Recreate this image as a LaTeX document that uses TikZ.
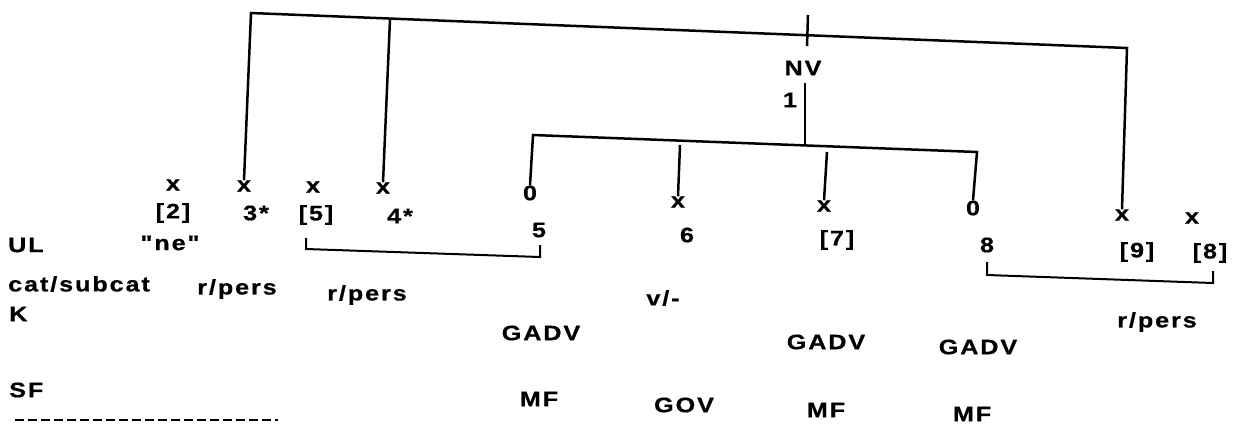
\documentclass[tikz,border=0pt]{standalone}
\usepackage{fontspec}
\setmainfont{Liberation Sans}[Ligatures=TeXOff, LetterSpace=9, FakeStretch=1.2, FakeBold=0.6]
\begin{document}
\begin{tikzpicture}[x=1pt,y=-1pt,
  lbl/.style={inner sep=0pt, font=\fontsize{21}{25}\selectfont\bfseries},
  ln/.style={line width=2.5pt}]
\useasboundingbox (0,0) rectangle (1236,424);
% row labels
\node[lbl,anchor=west] (ul) at (8,245) {UL};
\node[lbl,anchor=west] (cat) at (8,284) {cat/subcat};
\node[lbl,anchor=west] (k) at (9,314) {K};
\node[lbl,anchor=west] (sf) at (9,390) {SF};
% marker row
\node[lbl] (x1) at (173,185) {x};
\node[lbl] (x2) at (244,186) {x};
\node[lbl] (x3) at (313,187) {x};
\node[lbl] (x4) at (383,188) {x};
\node[lbl] (z5) at (530,193) {0};
\node[lbl] (x6) at (678,202) {x};
\node[lbl] (x7) at (824,206) {x};
\node[lbl] (z8) at (973,208) {0};
\node[lbl] (x9) at (1122,215) {x};
\node[lbl] (x10) at (1192,218) {x};
% number row
\node[lbl] (n2) at (173,213) {[2]};
\node[lbl] (n3) at (256,213) {3*};
\node[lbl] (n5a) at (316,215) {[5]};
\node[lbl] (n4) at (400,216) {4*};
\node[lbl] (n5) at (539,230) {5};
\node[lbl] (n6) at (687,235) {6};
\node[lbl] (n7) at (837,240) {[7]};
\node[lbl] (n8) at (987,245) {8};
\node[lbl] (n9) at (1137,252) {[9]};
\node[lbl] (n8b) at (1210,253) {[8]};
\node[lbl] (ne) at (170,243) {"ne"};
% category row
\node[lbl] (rp1) at (237,289) {r/pers};
\node[lbl] (rp2) at (367,295) {r/pers};
\node[lbl] (v) at (663,298) {v/-};
\node[lbl] (rp3) at (1157,322) {r/pers};
% K row
\node[lbl] (g1) at (541,333) {GADV};
\node[lbl] (g2) at (826,342) {GADV};
\node[lbl] (g3) at (978,347) {GADV};
% SF row
\node[lbl] (m1) at (539,399) {MF};
\node[lbl] (gov) at (684,405) {GOV};
\node[lbl] (m2) at (826,410) {MF};
\node[lbl] (m3) at (972,414) {MF};
% NV
\node[lbl] (nv) at (803,68) {NV};
\node[lbl] (one) at (790,100) {1};
% top bar
\coordinate (t1) at (251,13);
\coordinate (t2) at (1127,48);
\coordinate (t3) at (390,19);
\draw[ln] (x2.north) -- (t1) -- (t2) -- (x9.north);
\draw[ln] (t3) -- (x4.north);
\draw[ln] (808,15) -- (807,46);
% second bar
\coordinate (b1) at (533,135);
\coordinate (b2) at (977,152);
\coordinate (bm) at (805,146);
\draw[ln] (805,83) -- (bm);
\draw[ln] (z5.north) -- (b1) -- (b2) -- (z8.north);
\coordinate (s6) at (680,145);
\coordinate (s7) at (827,152);
\draw[ln] (s6) -- (x6.north);
\draw[ln] (s7) -- (x7.north);
% brackets
\draw[line width=2pt] (306,238) -- (306,249) -- (540,257) -- (540,245);
\draw[line width=2pt] (987,262) -- (987,275) -- (1213,283) -- (1213,271);
% dashed rule
\draw[line width=2.2pt, dash pattern=on 9pt off 4pt] (15,420) -- (278,420);
\end{tikzpicture}
\end{document}
